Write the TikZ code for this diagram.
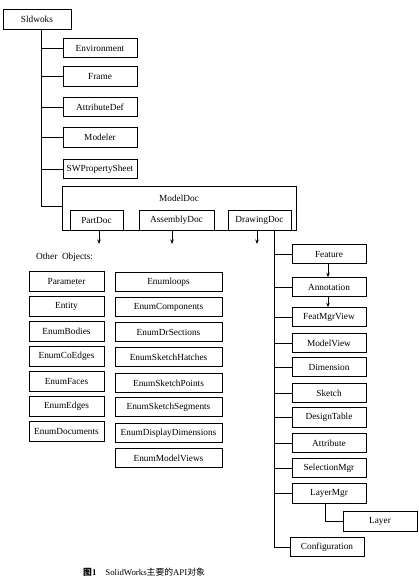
\documentclass[tikz,border=0pt]{standalone}
\usepackage{fontspec}
\setmainfont{Liberation Serif}
\newfontfamily\cjk{Noto Sans CJK SC}
\usetikzlibrary{arrows.meta}
\begin{document}
\begin{tikzpicture}[x=1pt,y=-1pt,
  box/.style={draw, line width=0.75pt, minimum height=19.5pt, inner sep=1pt, outer sep=0pt,
    font=\fontsize{9.3}{10}\selectfont},
  ln/.style={line width=0.75pt},
  arr/.style={line width=0.75pt, -{Stealth[length=4.5pt,width=3.5pt]}},
  font=\fontsize{9.3}{10}\selectfont]
\useasboundingbox[fill=white] (0,0) rectangle (419,582);
% top level
\node[box, minimum width=68pt] (sld) at (37,19.5) {Sldwoks};
\coordinate (t1) at (41,29);
\node[box, minimum width=74pt] (env) at (100,48) {Environment};
\node[box, minimum width=74pt] (frm) at (100,76.5) {Frame};
\node[box, minimum width=74pt] (atd) at (100,107) {AttributeDef};
\node[box, minimum width=74pt] (mdl) at (100,137.5) {Modeler};
\node[box, minimum width=74pt] (swp) at (100,169) {SWPropertySheet};
% ModelDoc
\node[box, minimum width=234pt, minimum height=44pt,
  label={[anchor=north, yshift=-6pt, font=\fontsize{9.3}{10}\selectfont]north:ModelDoc}] (md) at (179,208) {};
\node[box, minimum width=53pt] (pd) at (96.5,220.5) {PartDoc};
\node[box, minimum width=75pt] (ad) at (176.5,220.5) {AssemblyDoc};
\node[box, minimum width=63pt] (dd) at (259.5,220.5) {DrawingDoc};
% trunk from Sldwoks
\draw[ln] (sld.south -| t1) |- (md.west |- 0,206);
\foreach \n in {env,frm,atd,mdl,swp} \draw[ln] (t1 |- \n.west) -- (\n.west);
% arrows below doc boxes
\coordinate (a1) at (99,244);
\coordinate (a2) at (172,244);
\coordinate (a3) at (257,244);
\draw[arr] (pd.south -| a1) -- (a1);
\draw[arr] (ad.south -| a2) -- (a2);
\draw[arr] (dd.south -| a3) -- (a3);
% other objects
\node[anchor=west, inner sep=0pt] (oo) at (36,257) {Other\ \ Objects:};
\node[box, minimum width=75pt] (l1) at (66.5,281.5) {Parameter};
\node[box, minimum width=75pt] (l2) at (66.5,306.5) {Entity};
\node[box, minimum width=75pt] (l3) at (66.5,331.5) {EnumBodies};
\node[box, minimum width=75pt] (l4) at (66.5,356.5) {EnumCoEdges};
\node[box, minimum width=75pt] (l5) at (66.5,381.5) {EnumFaces};
\node[box, minimum width=75pt] (l6) at (66.5,406.5) {EnumEdges};
\node[box, minimum width=75pt] (l7) at (66.5,431.5) {EnumDocuments};
\node[box, minimum width=107pt] (r1) at (168.5,282) {Enumloops};
\node[box, minimum width=107pt] (r2) at (168.5,307) {EnumComponents};
\node[box, minimum width=107pt] (r3) at (168.5,332) {EnumDrSections};
\node[box, minimum width=107pt] (r4) at (168.5,357) {EnumSketchHatches};
\node[box, minimum width=107pt] (r5) at (168.5,383) {EnumSketchPoints};
\node[box, minimum width=107pt] (r6) at (168.5,407) {EnumSketchSegments};
\node[box, minimum width=107pt] (r7) at (168.5,433) {EnumDisplayDimensions};
\node[box, minimum width=107pt] (r8) at (168.5,458) {EnumModelViews};
% right stack
\coordinate (t2) at (274,230);
\node[box, minimum width=74pt] (f1) at (329,254) {Feature};
\node[box, minimum width=74pt] (f2) at (329,287) {Annotation};
\node[box, minimum width=74pt] (f3) at (329,317) {FeatMgrView};
\node[box, minimum width=74pt] (f4) at (329,343) {ModelView};
\node[box, minimum width=74pt] (f5) at (329,367) {Dimension};
\node[box, minimum width=74pt] (f6) at (329,393) {Sketch};
\node[box, minimum width=74pt] (f7) at (329,417.5) {DesignTable};
\node[box, minimum width=74pt] (f8) at (329,443) {Attribute};
\node[box, minimum width=74pt] (f9) at (329,468) {SelectionMgr};
\node[box, minimum width=74pt] (f10) at (329,493.5) {LayerMgr};
\node[box, minimum width=74pt] (lay) at (380,521.5) {Layer};
\node[box, minimum width=74pt] (cfg) at (327,547) {Configuration};
\draw[ln] (dd.south -| t2) |- (cfg.west);
\foreach \n in {f1,f2,f3,f4,f5,f6,f7,f8,f9,f10} \draw[ln] (t2 |- \n.west) -- (\n.west);
\coordinate (a4) at (328,0);
\draw[arr] (f1.south -| a4) -- (f2.north -| a4);
\draw[arr] (f2.south -| a4) -- (f3.north -| a4);
\coordinate (a5) at (325,0);
\draw[ln] (f10.south -| a5) |- (lay.west);
% caption
\node[anchor=west, inner sep=0pt, font=\fontsize{8.8}{10}\selectfont] (cap) at (83,572)
  {{\cjk\bfseries 图}\textbf{1}\hspace{9pt}SolidWorks{\cjk 主要的}API{\cjk 对象}};
\end{tikzpicture}
\end{document}
